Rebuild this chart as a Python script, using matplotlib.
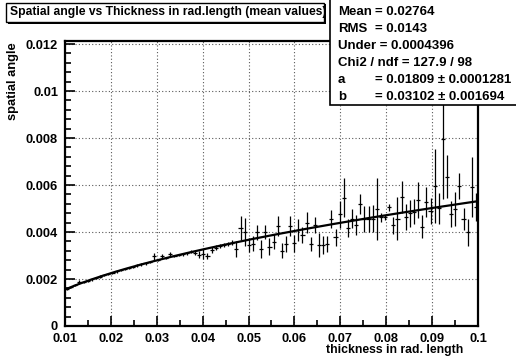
import numpy as np
import matplotlib
matplotlib.use("Agg")
import matplotlib.pyplot as plt
from matplotlib.patches import Rectangle
from matplotlib.ticker import MultipleLocator, FuncFormatter

plt.rcParams['font.family'] = ['Liberation Sans', 'DejaVu Sans']
plt.rcParams['font.weight'] = 'bold'

# profile: 100 bins from 0.01 to 0.1, mean spatial angle (in units of 1e-3)
x_min, x_max, n_bins = 0.01, 0.1, 100
mean_vals = [
    1.59, 1.66, 1.73, 1.89, 1.86, 1.93, 1.98, 2.05, 2.10, 2.16,
    2.21, 2.27, 2.32, 2.37, 2.43, 2.47, 2.52, 2.58, 2.62, 2.66,
    2.71, 2.96, 2.80, 2.97, 2.89, 3.05, 2.98, 3.02, 3.06, 3.10,
    3.16, 3.12, 3.04, 3.06, 2.98, 3.22, 3.34, 3.42, 3.46, 3.50,
    3.55, 3.28, 4.16, 4.00, 3.46, 3.50, 3.99, 3.28, 3.99, 3.38,
    3.59, 4.26, 3.21, 3.49, 4.26, 3.52, 4.09, 3.87, 4.40, 3.49,
    4.30, 3.45, 3.45, 3.49, 4.55, 3.77, 4.75, 5.46, 4.16, 4.57,
    4.30, 5.18, 4.55, 4.54, 4.57, 4.98, 4.62, 4.62, 5.05, 4.28,
    4.57, 5.50, 4.65, 4.79, 4.87, 5.36, 4.23, 5.29, 4.89, 5.96,
    5.01, 7.96, 6.35, 4.77, 4.98, 5.97, 4.55, 3.99, 5.93, 5.05,
]
err_vals = [
    0.04, 0.04, 0.04, 0.07, 0.04, 0.04, 0.05, 0.04, 0.05, 0.04,
    0.05, 0.04, 0.05, 0.05, 0.04, 0.05, 0.05, 0.05, 0.05, 0.05,
    0.05, 0.15, 0.05, 0.10, 0.05, 0.08, 0.06, 0.06, 0.06, 0.06,
    0.07, 0.08, 0.16, 0.20, 0.13, 0.13, 0.12, 0.08, 0.08, 0.08,
    0.10, 0.33, 0.51, 0.60, 0.30, 0.32, 0.32, 0.39, 0.30, 0.35,
    0.32, 0.43, 0.32, 0.32, 0.43, 0.35, 0.46, 0.35, 0.46, 0.28,
    0.35, 0.50, 0.39, 0.35, 0.39, 0.35, 0.57, 0.82, 0.39, 0.39,
    0.43, 0.43, 0.57, 0.55, 0.57, 1.31, 0.18, 0.10, 0.15, 0.35,
    0.90, 0.67, 0.55, 0.57, 0.55, 0.76, 0.48, 0.64, 0.57, 1.56,
    0.66, 2.54, 0.92, 0.57, 0.71, 0.55, 0.46, 0.57, 1.28, 0.60,
]

# fit parameters (a*sqrt(x)*(1+b*ln x))
par_a = 0.01809
par_b = 0.03102

stat_labels = ["Mean", "RMS", "a", "b"]
stat_values = ["= 0.02764", "= 0.0143", "= 0.01809 \u00b1 0.0001281", "= 0.03102 \u00b1 0.001694"]

edges = np.linspace(x_min, x_max, n_bins + 1)
centers = 0.5 * (edges[:-1] + edges[1:])
half_w = 0.5 * (edges[1] - edges[0])
y = np.array(mean_vals) * 1e-3
ey = np.array(err_vals) * 1e-3

fig = plt.figure(figsize=(5.16, 3.6), dpi=100)
ax = fig.add_axes([65/516, 34/360, 413/516, 285.5/360])

ax.errorbar(centers, y, xerr=half_w, yerr=ey, fmt='none', ecolor='black',
            elinewidth=0.9, capsize=0, zorder=3)

xf = np.linspace(x_min, x_max, 300)
ax.plot(xf, par_a * np.sqrt(xf) * (1 + par_b * np.log(xf)), color='black', lw=1.6, zorder=4)

ax.set_xlim(x_min, x_max)
ax.set_ylim(0, 0.01215)
ax.xaxis.set_major_locator(MultipleLocator(0.01))
ax.xaxis.set_minor_locator(MultipleLocator(0.005))
ax.yaxis.set_major_locator(MultipleLocator(0.002))
ax.yaxis.set_minor_locator(MultipleLocator(0.0004))
fmt = FuncFormatter(lambda v, p: "0" if abs(v) < 1e-12 else "%g" % v)
ax.xaxis.set_major_formatter(fmt)
ax.yaxis.set_major_formatter(fmt)
ax.tick_params(which='both', direction='in', top=False, right=False, labelsize=9.3, width=1.2)
ax.tick_params(which='major', length=7)
ax.tick_params(which='minor', length=4)
ax.tick_params(axis='x', pad=5)
ax.tick_params(axis='y', pad=5)
ax.grid(True, which='major', color='0.35', linestyle=(0, (1, 2)), lw=0.8)
for s in ax.spines.values():
    s.set_linewidth(1.6)

fig.text(13/516, 1 - 42/360, "spatial angle", rotation=90, ha='center', va='top', fontsize=9.3)
fig.text(463/516, 1 - 350/360, "thickness in rad. length", ha='right', va='center', fontsize=8.8)

# title box with shadow
fig.patches.append(Rectangle((8/516, 1 - 24/360), 318/516, 20/360, transform=fig.transFigure,
                             fc='black', ec='black', lw=0, zorder=5))
fig.patches.append(Rectangle((6/516, 1 - 22/360), 318/516, 19/360, transform=fig.transFigure,
                             fc='white', ec='black', lw=1, zorder=6))
fig.text(10/516, 1 - 12.5/360, "Spatial angle vs Thickness in rad.length (mean values)",
         ha='left', va='center', fontsize=8.7, zorder=7)

# stats box
fig.patches.append(Rectangle((330/516, 1 - 105/360), 200/516, 106/360, transform=fig.transFigure,
                             fc='white', ec='black', lw=1.2, zorder=5))
line_y = [12, 29, 46, 63, 80, 97]
val_x = 375/516
fig.text(338/516, 1 - line_y[0]/360, stat_labels[0], ha='left', va='center', fontsize=9.5, zorder=7)
fig.text(val_x, 1 - line_y[0]/360, stat_values[0], ha='left', va='center', fontsize=9.5, zorder=7)
fig.text(338/516, 1 - line_y[1]/360, stat_labels[1], ha='left', va='center', fontsize=9.5, zorder=7)
fig.text(val_x, 1 - line_y[1]/360, stat_values[1], ha='left', va='center', fontsize=9.5, zorder=7)
fig.text(338/516, 1 - line_y[2]/360, "Under = 0.0004396", ha='left', va='center', fontsize=9.5, zorder=7)
fig.text(338/516, 1 - line_y[3]/360, "Chi2 / ndf = 127.9 / 98", ha='left', va='center', fontsize=9.5, zorder=7)
fig.text(338/516, 1 - line_y[4]/360, stat_labels[2], ha='left', va='center', fontsize=9.5, zorder=7)
fig.text(val_x, 1 - line_y[4]/360, stat_values[2], ha='left', va='center', fontsize=9.5, zorder=7)
fig.text(338/516, 1 - line_y[5]/360, stat_labels[3], ha='left', va='center', fontsize=9.5, zorder=7)
fig.text(val_x, 1 - line_y[5]/360, stat_values[3], ha='left', va='center', fontsize=9.5, zorder=7)

fig.savefig("out.png", dpi=100)
